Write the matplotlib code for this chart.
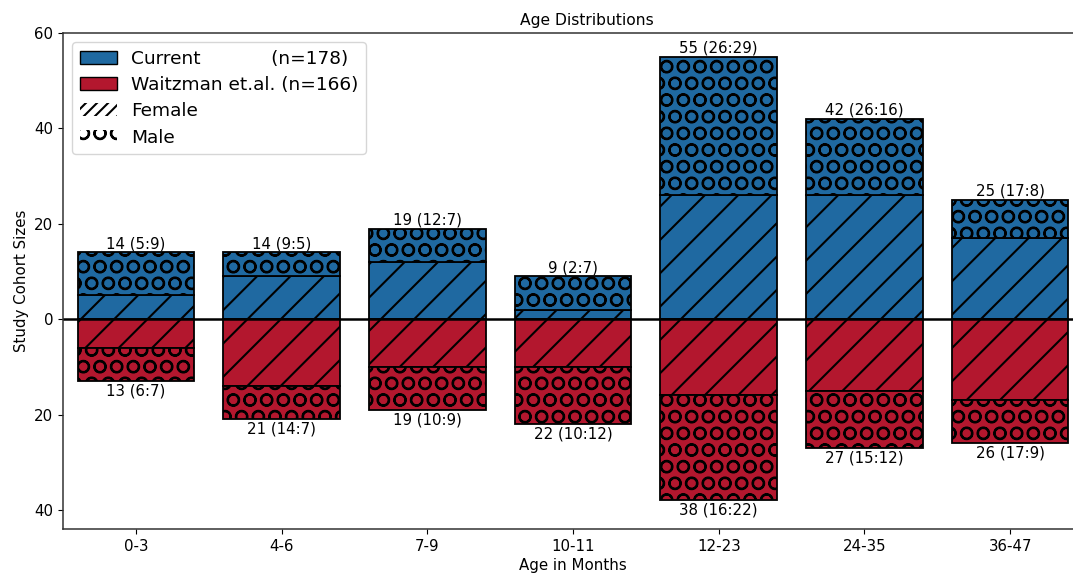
import matplotlib
matplotlib.use("Agg")
import matplotlib.pyplot as plt
from matplotlib.patches import Patch
import numpy as np

categories = ["0-3", "4-6", "7-9", "10-11", "12-23", "24-35", "36-47"]
current_female = [5, 9, 12, 2, 26, 26, 17]
current_male = [9, 5, 7, 7, 29, 16, 8]
waitz_female = [6, 14, 10, 10, 16, 15, 17]
waitz_male = [7, 7, 9, 12, 22, 12, 9]

blue = "#1f69a1"
red = "#b3172e"

plt.rcParams["hatch.linewidth"] = 1.5
fig = plt.figure(figsize=(10.73, 5.78), dpi=100)
ax = fig.add_axes([63 / 1073, 1 - 529 / 578, (1083 - 63) / 1073, (529 - 33) / 578])

x = np.arange(len(categories))
w = 0.8
cf = np.array(current_female)
cm = np.array(current_male)
wf = np.array(waitz_female)
wm = np.array(waitz_male)

ax.bar(x, cf, w, color=blue, edgecolor="black", hatch="/", linewidth=1.3)
ax.bar(x, cm, w, bottom=cf, color=blue, edgecolor="black", hatch="O", linewidth=1.3)
ax.bar(x, -wf, w, color=red, edgecolor="black", hatch="/", linewidth=1.3)
ax.bar(x, -wm, w, bottom=-wf, color=red, edgecolor="black", hatch="O", linewidth=1.3)

ax.axhline(0, color="black", linewidth=1.8)

fs = 10.8
for i in range(len(categories)):
    tot = cf[i] + cm[i]
    ax.text(x[i], tot + 0.2, f"{tot} ({cf[i]}:{cm[i]})", ha="center", va="bottom", fontsize=fs)
    totw = wf[i] + wm[i]
    ax.text(x[i], -totw - 0.5, f"{totw} ({wf[i]}:{wm[i]})", ha="center", va="top", fontsize=fs)

ax.set_xlim(-0.5, 6.5)
ax.set_ylim(-44, 60)
ax.set_xticks(x)
ax.set_xticklabels(categories, fontsize=fs)
yt = [-40, -20, 0, 20, 40, 60]
ax.set_yticks(yt)
ax.set_yticklabels([str(abs(v)) for v in yt], fontsize=fs)
ax.set_xlabel("Age in Months", fontsize=fs, labelpad=3)
ax.set_ylabel("Study Cohort Sizes", fontsize=fs)
ax.set_title("Age Distributions", fontsize=fs + 0.4, pad=6, x=0.514)
for s in ax.spines.values():
    s.set_linewidth(1.1)
    s.set_color("#333333")

handles = [
    Patch(facecolor=blue, edgecolor="black", linewidth=1.0),
    Patch(facecolor=red, edgecolor="black", linewidth=1.0),
    Patch(facecolor="white", edgecolor="black", linewidth=0, hatch="///"),
    Patch(facecolor="white", edgecolor="black", linewidth=0, hatch="O"),
]
labels = ["Current            (n=178)", "Waitzman et.al. (n=166)", "Female", "Male"]
ax.legend(handles, labels, loc="upper left", fontsize=13.3, handlelength=2.0,
          borderpad=0.4, labelspacing=0.45)

fig.savefig("out.png", dpi=100)
